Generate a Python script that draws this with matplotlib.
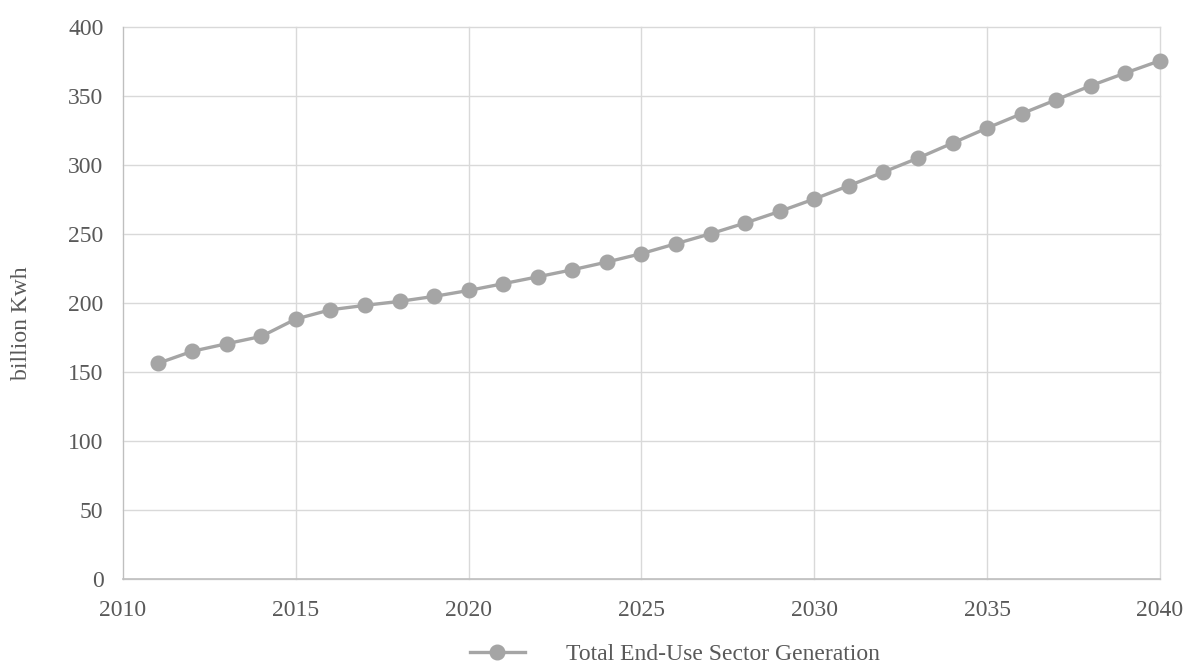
import matplotlib
matplotlib.use("Agg")
import matplotlib.pyplot as plt

# data
years = list(range(2011, 2041))
generation = [156.2, 165.0, 170.5, 175.8, 188.4, 195.1, 198.3, 201.2, 204.8, 209.1,
              214.0, 219.0, 224.1, 229.7, 235.8, 243.0, 250.2, 258.0, 266.4, 275.4,
              285.0, 294.9, 305.0, 315.9, 326.8, 337.2, 347.3, 357.5, 366.7, 375.6]
series_name = "Total End-Use Sector Generation"
xticks = [2010, 2015, 2020, 2025, 2030, 2035, 2040]
yticks = [0, 50, 100, 150, 200, 250, 300, 350, 400]

plt.rcParams['font.family'] = ['Liberation Serif', 'DejaVu Serif']
fs = 17
txtcol = '#595959'

fig = plt.figure(figsize=(11.85, 6.67), dpi=100)
ax = fig.add_axes([0.1038, 0.1319, 0.9789 - 0.1038, 0.9595 - 0.1319])

#line with markers
ax.plot(years, generation, color='#A5A5A5', linewidth=2.4, marker='o',
        markersize=10.5, label=series_name, zorder=3, clip_on=False)

ax.set_xlim(2010, 2040)
ax.set_ylim(0, 400)
ax.set_xticks(xticks)
ax.set_yticks(yticks)
ax.grid(True, color='#D9D9D9', linewidth=1.0)
ax.set_axisbelow(True)
for gl in ax.get_xgridlines() + ax.get_ygridlines():
    gl.set_clip_on(False)

for s in ['top', 'right']:
    ax.spines[s].set_visible(False)
ax.spines['left'].set_color('#BFBFBF')
ax.spines['bottom'].set_color('#BFBFBF')
ax.spines['bottom'].set_linewidth(1.2)

ax.tick_params(axis='both', length=0, labelsize=fs, colors=txtcol)
ax.tick_params(axis='y', pad=14)
ax.tick_params(axis='x', pad=15)

fig.text(22 / 1185, 1 - 323 / 667, "billion Kwh", rotation=90, ha='center', va='center',
         fontsize=fs, color=txtcol)

fig.legend(loc='center', bbox_to_anchor=(675 / 1185, 1 - 654 / 667), frameon=False,
           fontsize=fs, handlelength=2.3, handletextpad=1.75, labelcolor=txtcol,
           borderpad=0, borderaxespad=0)

fig.savefig("out.png", dpi=100)
